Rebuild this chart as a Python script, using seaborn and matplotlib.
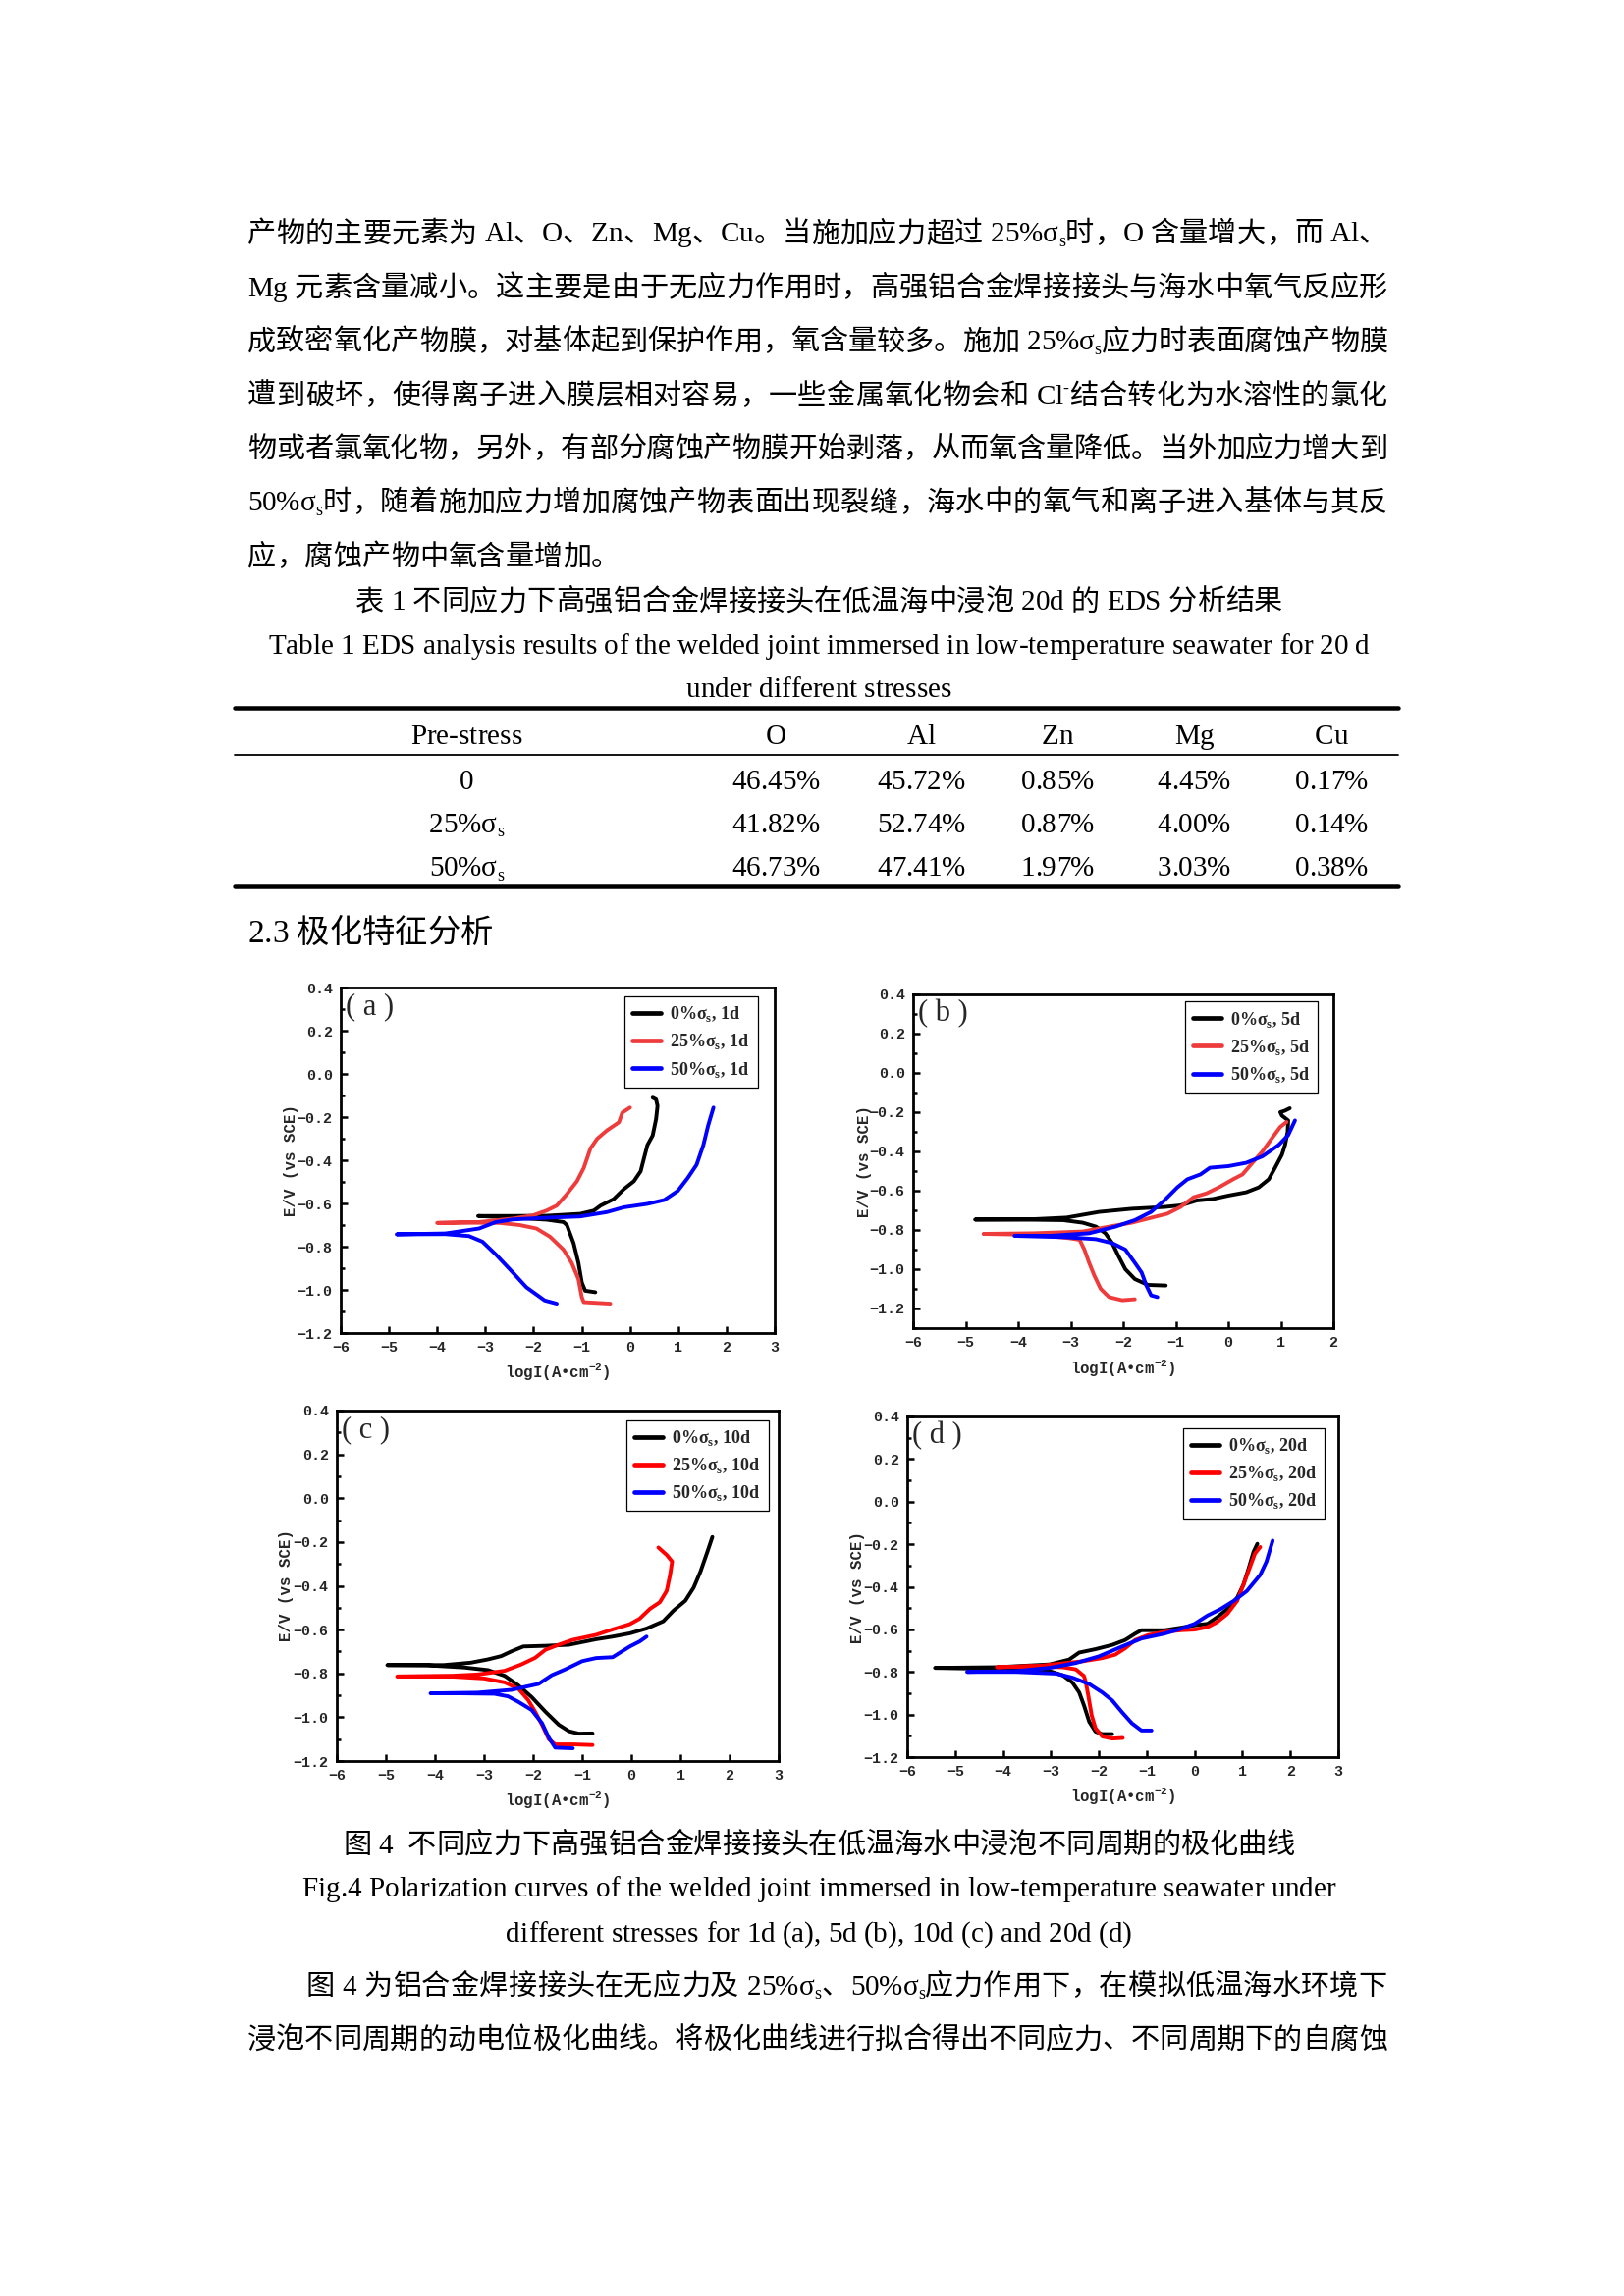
import matplotlib
matplotlib.use("Agg")
from matplotlib import pyplot as plt
from matplotlib.font_manager import FontProperties, findfont, get_font
from matplotlib.lines import Line2D
from matplotlib.ticker import MultipleLocator, FuncFormatter
import seaborn as sns

W, H, DPI = 1654, 2339, 200

# ---------------- page text ----------------
para1 = [
    "产物的主要元素为 Al、O、Zn、Mg、Cu。当施加应力超过 25%σ_s时，O 含量增大，而 Al、",
    "Mg 元素含量减小。这主要是由于无应力作用时，高强铝合金焊接接头与海水中氧气反应形",
    "成致密氧化产物膜，对基体起到保护作用，氧含量较多。施加 25%σ_s应力时表面腐蚀产物膜",
    "遭到破坏，使得离子进入膜层相对容易，一些金属氧化物会和 Cl^-结合转化为水溶性的氯化",
    "物或者氯氧化物，另外，有部分腐蚀产物膜开始剥落，从而氧含量降低。当外加应力增大到",
    "50%σ_s时，随着施加应力增加腐蚀产物表面出现裂缝，海水中的氧气和离子进入基体与其反",
    "应，腐蚀产物中氧含量增加。",
]
tbl_caption = [
    "表 1 不同应力下高强铝合金焊接接头在低温海中浸泡 20d 的 EDS 分析结果",
    "Table 1 EDS analysis results of the welded joint immersed in low-temperature seawater for 20 d",
    "under different stresses",
]
tbl_cols = ["Pre-stress", "O", "Al", "Zn", "Mg", "Cu"]
tbl_stress = ["0", "25%σ_s", "50%σ_s"]
tbl_O = [46.45, 41.82, 46.73]
tbl_Al = [45.72, 52.74, 47.41]
tbl_Zn = [0.85, 0.87, 1.97]
tbl_Mg = [4.45, 4.00, 3.03]
tbl_Cu = [0.17, 0.14, 0.38]
heading = "2.3 极化特征分析"
fig_caption = [
    "图 4  不同应力下高强铝合金焊接接头在低温海水中浸泡不同周期的极化曲线",
    "Fig.4 Polarization curves of the welded joint immersed in low-temperature seawater under",
    "different stresses for 1d (a), 5d (b), 10d (c) and 20d (d)",
]
para2 = [
    "图 4 为铝合金焊接接头在无应力及 25%σ_s、50%σ_s应力作用下，在模拟低温海水环境下",
    "浸泡不同周期的动电位极化曲线。将极化曲线进行拟合得出不同应力、不同周期下的自腐蚀",
]

# ---------------- polarization curves (logI, E) ----------------
a0_x = [-0.72, -0.93, -1.00, -1.07, -1.17, -1.31, -1.38, -1.73, -2.43, -3.15, -2.43, -1.73, -1.03, -0.75, -0.61,
        -0.34, -0.13, 0.08, 0.22, 0.29, 0.36, 0.47, 0.54, 0.57, 0.54, 0.47]
a0_y = [-1.011, -1.004, -0.966, -0.875, -0.784, -0.70, -0.686, -0.675, -0.666, -0.658, -0.658, -0.657, -0.648,
        -0.633, -0.61, -0.58, -0.534, -0.497, -0.451, -0.39, -0.33, -0.285, -0.209, -0.148, -0.118, -0.11]
a25_x = [-0.41, -0.96, -1.00, -1.07, -1.21, -1.38, -1.66, -1.94, -2.29, -2.71, -3.48, -4.00, -3.13, -2.43, -2.01,
         -1.73, -1.52, -1.31, -1.10, -0.96, -0.82, -0.68, -0.48, -0.23, -0.16, 0.0]
a25_y = [-1.064, -1.057, -1.034, -0.95, -0.875, -0.814, -0.754, -0.716, -0.70, -0.69, -0.689, -0.69, -0.686, -0.67,
         -0.655, -0.633, -0.61, -0.557, -0.497, -0.436, -0.345, -0.30, -0.262, -0.224, -0.179, -0.156]
a50_x = [-1.52, -1.77, -2.15, -2.43, -2.78, -3.06, -3.34, -3.83, -4.84, -3.83, -3.13, -2.78, -2.43, -1.73, -1.03,
         -0.48, -0.13, 0.36, 0.71, 0.99, 1.20, 1.38, 1.52, 1.62, 1.73]
a50_y = [-1.064, -1.049, -0.988, -0.92, -0.837, -0.777, -0.751, -0.742, -0.743, -0.739, -0.716, -0.686, -0.674,
         -0.666, -0.66, -0.64, -0.618, -0.602, -0.584, -0.542, -0.481, -0.421, -0.33, -0.239, -0.156]

b0_x = [-1.19, -1.53, -1.78, -1.96, -2.09, -2.21, -2.34, -2.52, -2.77, -3.14, -3.70, -4.82, -3.70, -3.08, -2.46,
        -1.84, -1.22, -0.91, -0.60, -0.29, 0.0, 0.34, 0.58, 0.77, 0.89, 1.02, 1.08, 1.13, 1.14, 1.02, 0.99, 1.08, 1.17]
b0_y = [-1.083, -1.08, -1.05, -1.0, -0.933, -0.867, -0.817, -0.783, -0.763, -0.75, -0.748, -0.747, -0.745, -0.737,
        -0.708, -0.692, -0.683, -0.675, -0.65, -0.642, -0.625, -0.608, -0.583, -0.542, -0.483, -0.417, -0.367, -0.30,
        -0.242, -0.217, -0.20, -0.192, -0.18]
b25_x = [-1.78, -2.02, -2.27, -2.43, -2.55, -2.65, -2.74, -2.83, -3.02, -3.64, -4.66, -3.70, -2.77, -2.27, -1.84,
         -1.53, -1.16, -0.91, -0.66, -0.41, -0.16, 0.09, 0.27, 0.46, 0.65, 0.83, 0.99, 1.11]
b25_y = [-1.153, -1.158, -1.142, -1.10, -1.033, -0.967, -0.90, -0.85, -0.842, -0.825, -0.82, -0.817, -0.808, -0.783,
         -0.763, -0.742, -0.717, -0.683, -0.633, -0.613, -0.58, -0.542, -0.517, -0.458, -0.40, -0.333, -0.275, -0.25]
b50_x = [-1.35, -1.47, -1.56, -1.65, -1.78, -1.96, -2.21, -2.52, -3.08, -4.07, -3.39, -2.65, -2.15, -1.78, -1.47,
         -1.22, -0.97, -0.78, -0.53, -0.35, 0.0, 0.34, 0.65, 0.96, 1.14, 1.27]
b50_y = [-1.142, -1.133, -1.083, -1.017, -0.967, -0.90, -0.867, -0.847, -0.837, -0.83, -0.83, -0.817, -0.783, -0.75,
         -0.708, -0.65, -0.583, -0.542, -0.517, -0.483, -0.475, -0.458, -0.425, -0.367, -0.317, -0.242]

c0_x = [-0.79, -1.07, -1.27, -1.48, -1.75, -2.03, -2.30, -2.58, -2.92, -3.40, -4.16, -4.97, -3.82, -3.27, -2.92,
        -2.65, -2.44, -2.20, -1.75, -1.27, -0.72, -0.38, -0.03, 0.31, 0.65, 0.86, 1.10, 1.27, 1.41, 1.55, 1.65]
c0_y = [-1.074, -1.075, -1.064, -1.034, -0.975, -0.908, -0.855, -0.811, -0.785, -0.773, -0.763, -0.762, -0.762,
        -0.751, -0.736, -0.721, -0.699, -0.677, -0.674, -0.669, -0.644, -0.632, -0.617, -0.595, -0.562, -0.513,
        -0.468, -0.408, -0.334, -0.244, -0.177]
c25_x = [-0.79, -1.20, -1.55, -1.68, -1.82, -1.96, -2.10, -2.30, -2.58, -3.00, -3.68, -4.77, -3.68, -3.13, -2.58,
         -2.24, -1.96, -1.75, -1.48, -1.20, -0.72, -0.38, -0.03, 0.17, 0.38, 0.58, 0.72, 0.79, 0.83, 0.72, 0.55]
c25_y = [-1.127, -1.124, -1.124, -1.101, -1.034, -0.975, -0.922, -0.87, -0.841, -0.823, -0.814, -0.814, -0.811,
         -0.805, -0.788, -0.759, -0.729, -0.692, -0.669, -0.647, -0.624, -0.599, -0.575, -0.55, -0.505, -0.475,
         -0.423, -0.349, -0.289, -0.259, -0.225]
c50_x = [-1.19, -1.55, -1.68, -1.82, -2.03, -2.30, -2.51, -2.79, -3.47, -4.09, -3.13, -2.44, -1.89, -1.62, -1.34,
         -1.00, -0.72, -0.38, -0.24, -0.03, 0.17, 0.31]
c50_y = [-1.142, -1.139, -1.094, -1.027, -0.967, -0.93, -0.905, -0.893, -0.891, -0.891, -0.888, -0.875, -0.848,
         -0.808, -0.781, -0.744, -0.73, -0.726, -0.706, -0.677, -0.654, -0.632]

d0_x = [-1.72, -1.93, -2.07, -2.20, -2.31, -2.41, -2.55, -2.75, -3.03, -3.72, -5.42, -4.13, -3.03, -2.62, -2.41,
        -2.07, -1.72, -1.45, -1.24, -1.11, -0.63, -0.28, 0.0, 0.27, 0.47, 0.68, 0.89, 1.02, 1.13, 1.23, 1.31]
d0_y = [-1.092, -1.092, -1.08, -1.034, -0.957, -0.896, -0.85, -0.816, -0.796, -0.788, -0.781, -0.778, -0.765,
        -0.742, -0.709, -0.693, -0.673, -0.65, -0.62, -0.604, -0.604, -0.592, -0.581, -0.574, -0.543, -0.505,
        -0.451, -0.39, -0.313, -0.236, -0.198]
d25_x = [-1.50, -1.72, -1.93, -2.07, -2.15, -2.22, -2.27, -2.31, -2.48, -2.75, -3.44, -4.13, -3.30, -2.34, -1.93,
         -1.66, -1.45, -1.24, -0.97, -0.63, -0.28, 0.0, 0.27, 0.47, 0.68, 0.89, 1.02, 1.16, 1.26, 1.37]
d25_y = [-1.11, -1.113, -1.103, -1.064, -1.003, -0.911, -0.85, -0.819, -0.788, -0.778, -0.773, -0.778, -0.773,
         -0.75, -0.735, -0.719, -0.689, -0.65, -0.627, -0.612, -0.604, -0.601, -0.589, -0.566, -0.528, -0.466,
         -0.39, -0.305, -0.244, -0.213]
d50_x = [-0.90, -1.11, -1.31, -1.52, -1.72, -1.93, -2.20, -2.55, -2.89, -3.72, -4.75, -3.72, -3.03, -2.48, -2.00,
         -1.52, -1.11, -0.63, -0.28, 0.0, 0.27, 0.54, 0.82, 1.09, 1.37, 1.50, 1.63]
d50_y = [-1.075, -1.075, -1.041, -0.988, -0.934, -0.896, -0.857, -0.827, -0.808, -0.80, -0.80, -0.796, -0.781,
         -0.758, -0.727, -0.681, -0.643, -0.62, -0.597, -0.574, -0.535, -0.505, -0.466, -0.42, -0.344, -0.282, -0.183]

stress_labels = ["0%σ$_\\mathregular{s}$", "25%σ$_\\mathregular{s}$", "50%σ$_\\mathregular{s}$"]

sns.set_theme(style="ticks")
LAT = "Liberation Serif"
CJK = "Noto Sans CJK SC"
MONO = "Liberation Mono"
plt.rcParams["font.family"] = [LAT, CJK]

fig = plt.figure(figsize=(W / DPI, H / DPI), dpi=DPI)

lat_ft = get_font(findfont(FontProperties(family=LAT)))
cjk_ft = get_font(findfont(FontProperties(family=CJK)))
lat_chars = set(lat_ft.get_charmap())


def is_lat(ch):
    return ord(ch) in lat_chars


def adv(ch, size):
    ft = lat_ft if is_lat(ch) else cjk_ft
    ft.set_size(size, DPI)
    g = ft.load_char(ord(ch))
    return g.linearHoriAdvance / 65536


def tokens(s):
    out, i = [], 0
    while i < len(s):
        if s[i] in "_^":
            out.append((s[i + 1], s[i]))
            i += 2
        else:
            out.append((s[i], ""))
            i += 1
    return out


def draw_line(s, y, x0, x1=None, size=10.5, align="left"):
    toks = tokens(s)
    em = size * DPI / 72
    sizes = [size * 0.62 if k else size for c, k in toks]
    widths = [adv(c, sz) for (c, k), sz in zip(toks, sizes)]
    total = sum(widths)
    stretch = []
    for i in range(len(toks) - 1):
        a, b = toks[i][0], toks[i + 1][0]
        ok = (not is_lat(a)) or (not is_lat(b)) or a == " " or b == " "
        stretch.append(ok and toks[i + 1][1] == "")
    gap = 0.0
    if align == "justify":
        gap = (x1 - x0 - total) / max(1, sum(stretch))
        x = x0
    elif align == "center":
        x = x0 - total / 2
    else:
        x = x0
    base = y + 0.36 * em
    for i, ((c, k), sz, w) in enumerate(zip(toks, sizes, widths)):
        if c != " ":
            dy = {"": 0.0, "_": -0.16 * em, "^": 0.36 * em}[k]
            fig.text(x / W, 1 - base / H + dy / H, c, family=LAT if is_lat(c) else CJK,
                     size=sz, ha="left", va="baseline", color="black")
        x += w
        if i < len(stretch) and stretch[i]:
            x += gap


def hline(y, x0, x1, lw_px):
    fig.add_artist(Line2D([x0 / W, x1 / W], [1 - y / H, 1 - y / H], lw=lw_px * 72 / DPI,
                          color="black", transform=fig.transFigure))


# body paragraph
L, R = 252, 1413
para1_y = [236, 291, 346, 401, 455, 510, 565]
for i, (s, y) in enumerate(zip(para1, para1_y)):
    draw_line(s, y, L, R, align="justify" if i < len(para1) - 1 else "left")

# table
for s, y in zip(tbl_caption, [611, 656, 700]):
    draw_line(s, y, 834, align="center")
hline(721, 239, 1424, 4.5)
hline(769, 239, 1424, 1.8)
hline(903, 239, 1424, 4.5)
col_x = [475, 790, 938, 1077, 1216, 1356]
for s, x in zip(tbl_cols, col_x):
    draw_line(s, 747, x, align="center")
for r, y in enumerate([793, 837, 882]):
    cells = [tbl_stress[r]] + ["%.2f%%" % v[r] for v in (tbl_O, tbl_Al, tbl_Zn, tbl_Mg, tbl_Cu)]
    for s, x in zip(cells, col_x):
        draw_line(s, y, x, align="center")

draw_line(heading, 948, L, size=12)

for s, y in zip(fig_caption, [1877, 1922, 1967]):
    draw_line(s, y, 834, align="center")
draw_line(para2[0], 2021, 311, R, align="justify")
draw_line(para2[1], 2076, L, R, align="justify")

# ---------------- the four polarization plots ----------------
panels = [
    ("a", (347, 1006, 789, 1358), (-6, 3), (-1.2, 0.4), "1d",
     [(a0_x, a0_y), (a25_x, a25_y), (a50_x, a50_y)], ["#000000", "#EE3B3B", "#0000FF"], (0.961, 0.974)),
    ("b", (930, 1013, 1358, 1353), (-6, 2), (-1.3, 0.4), "5d",
     [(b0_x, b0_y), (b25_x, b25_y), (b50_x, b50_y)], ["#000000", "#EE3B3B", "#0000FF"], (0.963, 0.978)),
    ("c", (343, 1437, 793, 1794), (-6, 3), (-1.2, 0.4), "10d",
     [(c0_x, c0_y), (c25_x, c25_y), (c50_x, c50_y)], ["#000000", "#FF0000", "#0000FF"], (0.977, 0.972)),
    ("d", (924, 1443, 1363, 1790), (-6, 3), (-1.2, 0.4), "20d",
     [(d0_x, d0_y), (d25_x, d25_y), (d50_x, d50_y)], ["#000000", "#FF0000", "#0000FF"], (0.969, 0.966)),
]


def yfmt(v, pos):
    if abs(v) < 1e-9:
        v = 0.0
    return ("%.1f" % v).replace("-", "\u2212")


def xfmt(v, pos):
    return ("%d" % round(v)).replace("-", "\u2212")


tick_font = FontProperties(family=MONO, weight="bold", size=5.4)
for tag, (x0, y0, x1, y1), xl, yl, day, curves, colors, anchor in panels:
    ax = fig.add_axes([x0 / W, 1 - y1 / H, (x1 - x0) / W, (y1 - y0) / H])
    for (xs, ys), col, lab in zip(curves, colors, stress_labels):
        sns.lineplot(x=xs, y=ys, sort=False, estimator=None, color=col, linewidth=1.4,
                     label=lab + ", " + day, ax=ax)
    ax.set_xlim(*xl)
    ax.set_ylim(*yl)
    ax.xaxis.set_major_locator(MultipleLocator(1))
    ax.yaxis.set_major_locator(MultipleLocator(0.2))
    ax.yaxis.set_minor_locator(MultipleLocator(0.1))
    ax.xaxis.set_major_formatter(FuncFormatter(xfmt))
    ax.yaxis.set_major_formatter(FuncFormatter(yfmt))
    ax.tick_params(which="both", direction="in", color="black")
    ax.tick_params(which="major", length=2.5, width=0.9, pad=3)
    ax.tick_params(which="minor", length=1.5, width=0.9)
    for lab in ax.get_xticklabels() + ax.get_yticklabels():
        lab.set_fontproperties(tick_font)
    for sp in ax.spines.values():
        sp.set_linewidth(1.0)
        sp.set_color("black")
        sp.set_visible(True)
    h = y1 - y0
    ax.text(-0.115, 0.5, "E/V (vs SCE)", rotation=90, ha="center", va="center",
            transform=ax.transAxes, family=MONO, weight="bold", size=5.7)
    ax.text(0.5, -40 / h, "logI(A•cm$^\\mathregular{-2}$)", ha="center", va="center",
            transform=ax.transAxes, family=MONO, weight="bold", size=5.7)
    ax.text(0.012, 0.985, "( %s )" % tag, ha="left", va="top", transform=ax.transAxes,
            family=LAT, size=11)
    leg = ax.legend(loc="upper right", bbox_to_anchor=anchor, borderaxespad=0, frameon=True,
                    fancybox=False, edgecolor="black", framealpha=1,
                    prop=FontProperties(family=LAT, weight="bold", size=6.5),
                    handlelength=1.6, handletextpad=0.5, labelspacing=0.45, borderpad=0.45)
    leg.get_frame().set_linewidth(0.45)
    for ln in leg.get_lines():
        ln.set_linewidth(1.7)
    ax.set_facecolor("white")

fig.savefig("out.png", dpi=DPI, facecolor="white")
